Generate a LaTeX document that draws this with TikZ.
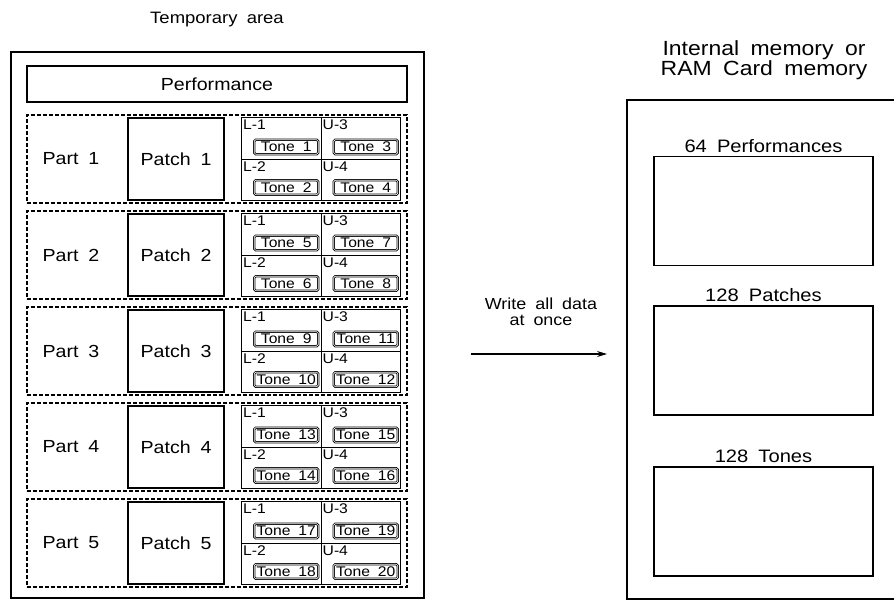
\documentclass[tikz,border=0pt]{standalone}
\usepackage{fontspec}
\setmainfont{Liberation Sans}[FakeStretch=1.12,WordSpace=1.8]
\usepackage{tikz}
\usetikzlibrary{positioning,arrows.meta}
\newcommand{\fsz}[1]{\fontsize{#1}{#1}\selectfont}

\begin{document}
\begin{tikzpicture}[x=1pt,y=-1pt,
    areabox/.style={draw,line width=1.4pt,inner sep=0pt},
    partbox/.style={draw,dashed,line width=1.1pt,dash pattern=on 4pt off 2pt,
                    inner sep=0pt,minimum width=380,minimum height=88},
    patchbox/.style={draw,line width=1.4pt,minimum width=96,minimum height=82,font=\fsz{17.5}},
    cellbox/.style={draw,line width=1.1pt,inner sep=0pt,anchor=north west,
                    minimum width=79.5,minimum height=41.5},
    tonebox/.style={draw,line width=0.8pt,double,double distance=0.7pt,rounded corners=1.5pt,
                    minimum width=64,minimum height=14.5,inner sep=0pt,font=\fsz{14}},
    cellno/.style={inner sep=1pt,font=\fsz{14}},
    memblock/.style={draw,line width=1.4pt,minimum width=219,minimum height=109,inner sep=0pt},
    memtext/.style={font=\fsz{18}}]
  \useasboundingbox (0,0) rectangle (894,602);

  % Temporary area
  \node[font=\fsz{16.5}] (temphead) at (217,20) {Temporary area};
  \node[areabox,minimum width=413,minimum height=546] (temp) at (217.5,325) {};
  \node[areabox,minimum width=380,minimum height=36,font=\fsz{17.5}] (perf) at (217,84) {Performance};

  % Parts, patches and tones
  \foreach \i in {1,...,5}{
    \pgfmathsetmacro{\ytop}{115+96*(\i-1)}
    \pgfmathtruncatemacro{\tna}{4*\i-3}
    \pgfmathtruncatemacro{\tnb}{4*\i-2}
    \pgfmathtruncatemacro{\tnc}{4*\i-1}
    \pgfmathtruncatemacro{\tnd}{4*\i}
    \node[partbox] (part\i) at (217,\ytop+44) {};
    \node[font=\fsz{17.5}] (partname\i) at (71,\ytop+44) {Part \i};
    \node[patchbox] (patch\i) at (176,\ytop+44) {Patch \i};
    \node[cellbox] (ca\i) at (241,\ytop+2) {};
    \node[cellbox] (cc\i) at (320.5,\ytop+2) {};
    \node[cellbox] (cb\i) at (241,\ytop+43.5) {};
    \node[cellbox] (cd\i) at (320.5,\ytop+43.5) {};
    \node[cellno,anchor=north west,below right=2pt and 1pt of ca\i.north west] {L-1};
    \node[cellno,anchor=north west,below right=2pt and 1pt of cc\i.north west] {U-3};
    \node[cellno,anchor=north west,below right=2pt and 1pt of cb\i.north west] {L-2};
    \node[cellno,anchor=north west,below right=2pt and 1pt of cd\i.north west] {U-4};
    \node[tonebox,anchor=south east,above left=5pt and 3pt of ca\i.south east] (ta\i) {Tone \tna};
    \node[tonebox,anchor=south east,above left=5pt and 3pt of cc\i.south east] (tc\i) {Tone \tnc};
    \node[tonebox,anchor=south east,above left=6pt and 3pt of cb\i.south east] (tb\i) {Tone \tnb};
    \node[tonebox,anchor=south east,above left=6pt and 3pt of cd\i.south east] (td\i) {Tone \tnd};
  }

  % Write arrow
  \coordinate (wsrc) at (471,354);
  \coordinate (wdst) at (607,354);
  \draw[line width=1.2pt,-{Stealth[length=10pt,width=6pt]}] (wsrc) -- (wdst);
  \node[align=center,font=\fsz{16}] (wlabel) at (541,311.5) {Write all data\\at once};

  % Internal memory or RAM card
  \node[align=center,font=\fontsize{20.5}{20}\selectfont] (memhead) at (764,60)
       {Internal memory or\\RAM Card memory};
  \draw[line width=1.4pt] (894,100) -| (627,599) -- (894,599);
  \node[memblock,label={[memtext]above:64 Performances}] (perfmem) at (763.5,211) {};
  \node[memblock,label={[memtext]above:128 Patches}] (patchmem) at (763.5,360.5) {};
  \node[memblock,label={[memtext]above:128 Tones}] (tonemem) at (763.5,521.5) {};
\end{tikzpicture}
\end{document}
